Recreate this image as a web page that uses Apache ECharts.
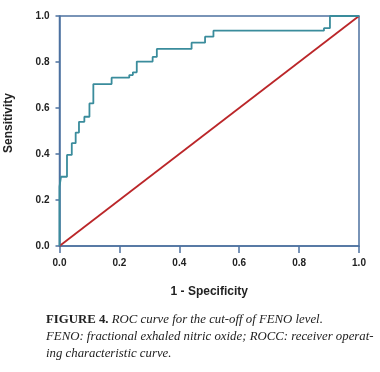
<!DOCTYPE html>
<html>
<head>
<meta charset="utf-8">
<script src="https://cdn.jsdelivr.net/npm/echarts@6/dist/echarts.min.js"></script>
<style>html,body{margin:0;padding:0;background:#fff;}#c{width:380px;height:372px;}</style>
</head>
<body>
<div id="c"></div>
<script>
// ROC curve data (1 - specificity, sensitivity)
var fpr = [0, 0, 0.005, 0.025, 0.041, 0.054, 0.065, 0.083, 0.100, 0.113, 0.174, 0.233, 0.245, 0.258, 0.311, 0.325, 0.441, 0.486, 0.514, 0.883, 0.903, 1.0];
var tpr = [0, 0.258, 0.301, 0.396, 0.447, 0.493, 0.540, 0.562, 0.620, 0.704, 0.732, 0.743, 0.755, 0.802, 0.822, 0.857, 0.884, 0.910, 0.936, 0.947, 1.0, 1.0];
var refX = [0, 1];
var refY = [0, 1];
var xTitle = '1 - Specificity';
var yTitle = 'Sensitivity';
var captionLines = [
  ['FIGURE 4.', ' ROC curve for the cut-off of FENO level.'],
  ['', 'FENO: fractional exhaled nitric oxide; ROCC: receiver operat-'],
  ['', 'ing characteristic curve.']
];

var axisBlue = '#4d72a0';
var chart = echarts.init(document.getElementById('c'), null, {renderer: 'canvas'});

var rocData = fpr.map(function (x, i) { return [x, tpr[i]]; });
var refData = refX.map(function (x, i) { return [x, refY[i]]; });

var labelStyle = {color: '#222', fontFamily: 'Liberation Sans, Arial, sans-serif', fontWeight: 'bold', fontSize: 10};

var graphics = captionLines.map(function (ln, i) {
  return {
    type: 'text',
    left: 46,
    top: 313 + i * 17,
    style: {
      text: (ln[0] ? '{b|' + ln[0] + '}' : '') + '{i|' + ln[1] + '}',
      rich: {
        b: {fontFamily: 'Liberation Serif, serif', fontWeight: 'bold', fontSize: 12.8, fill: '#222', color: '#222'},
        i: {fontFamily: 'Liberation Serif, serif', fontStyle: 'italic', fontSize: 12.8, fill: '#222', color: '#222'}
      }
    }
  };
});
graphics.push({
  type: 'text',
  x: 9, y: 123,
  rotation: Math.PI / 2,
  style: {
    text: yTitle, align: 'center', verticalAlign: 'middle',
    fontFamily: 'Liberation Sans, Arial, sans-serif', fontWeight: 'bold', fontSize: 12, fill: '#222'
  }
});

chart.setOption({
  animation: false,
  backgroundColor: '#fff',
  grid: {left: 59.5, right: 21, top: 16, bottom: 126, containLabel: false, outerBoundsMode: 'none', show: true, borderColor: axisBlue, borderWidth: 1.5, backgroundColor: 'transparent'},
  xAxis: {
    type: 'value', min: 0, max: 1, interval: 0.2,
    name: xTitle, nameLocation: 'middle', nameGap: 40,
    nameTextStyle: {color: '#222', fontFamily: 'Liberation Sans, Arial, sans-serif', fontWeight: 'bold', fontSize: 12},
    axisLine: {show: true, lineStyle: {color: axisBlue, width: 1.5}},
    axisTick: {show: true, length: 7, lineStyle: {color: axisBlue, width: 1.5}},
    axisLabel: Object.assign({margin: 12, formatter: function (v) { return v.toFixed(1); }}, labelStyle),
    splitLine: {show: false}
  },
  yAxis: {
    type: 'value', min: 0, max: 1, interval: 0.2,
    axisLine: {show: true, lineStyle: {color: axisBlue, width: 1.5}},
    axisTick: {show: true, length: 4, lineStyle: {color: axisBlue, width: 1.5}},
    axisLabel: Object.assign({margin: 10, formatter: function (v) { return v.toFixed(1); }}, labelStyle),
    splitLine: {show: false}
  },
  series: [
    {type: 'line', data: refData, symbol: 'none', lineStyle: {color: '#bb2629', width: 1.8}, z: 2},
    {type: 'line', data: rocData, step: 'end', symbol: 'none', lineStyle: {color: '#3a8c9c', width: 1.8}, z: 3}
  ],
  graphic: graphics
});
</script>
</body>
</html>
